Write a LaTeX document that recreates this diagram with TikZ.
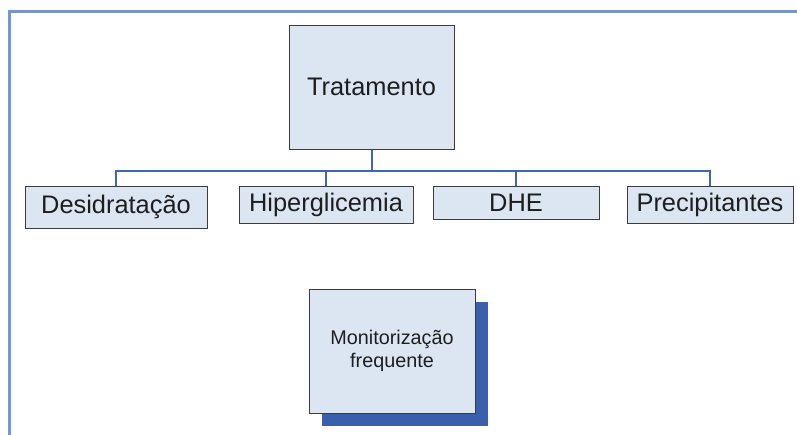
\documentclass[tikz,border=0pt]{standalone}
\usepackage{fontspec}
\setmainfont{Liberation Sans}
\usetikzlibrary{shadows}
\definecolor{boxfill}{HTML}{DCE6F2}
\definecolor{boxline}{HTML}{3C3C3C}
\definecolor{linkblue}{HTML}{3F66B5}
\definecolor{framblue}{HTML}{7396D6}
\definecolor{shadblue}{HTML}{3A60AD}
\definecolor{txt}{HTML}{1E1E1E}
\begin{document}
\begin{tikzpicture}
[x=1pt,y=-1pt,
 mybox/.style={rectangle,draw=boxline,fill=boxfill,line width=1pt,inner sep=0pt,text=txt,font=\fontsize{25.4}{28}\selectfont},
 mylink/.style={draw=linkblue,line width=1.5pt}]

\useasboundingbox (0,0) rectangle (797,434);
\draw[framblue,line width=2.8pt] (9.5,440) -- (9.5,11.5) -- (805,11.5);

\node (trat) at (371.5,87) [mybox,minimum width=165pt,minimum height=124pt] {Tratamento};

\node (desid)  at (116,207)   [mybox,minimum width=182pt,minimum height=42pt] {Desidratação};
\node (hiper)  at (326,204.5) [mybox,minimum width=174pt,minimum height=37pt] {Hiperglicemia};
\node (dhe)    at (516,202.5) [mybox,minimum width=166pt,minimum height=33pt] {DHE};
\node (precip) at (710,204.5) [mybox,minimum width=166pt,minimum height=37pt] {Precipitantes};

\node (monit) at (392,351) [mybox,minimum width=166pt,minimum height=124pt,align=center,
  font=\fontsize{19.8}{23}\selectfont,
  drop shadow={shadow xshift=13pt,shadow yshift=-13pt,fill=shadblue,opacity=1}]
  {Monitorização\\frequente};

\coordinate (hub) at (371.5,171);
\draw[mylink,line width=2pt] (trat.south) -- (hub);
\foreach \to in {desid,hiper,dhe,precip}
	\draw[mylink] (hub) -| (\to.north);

\end{tikzpicture}
\end{document}
